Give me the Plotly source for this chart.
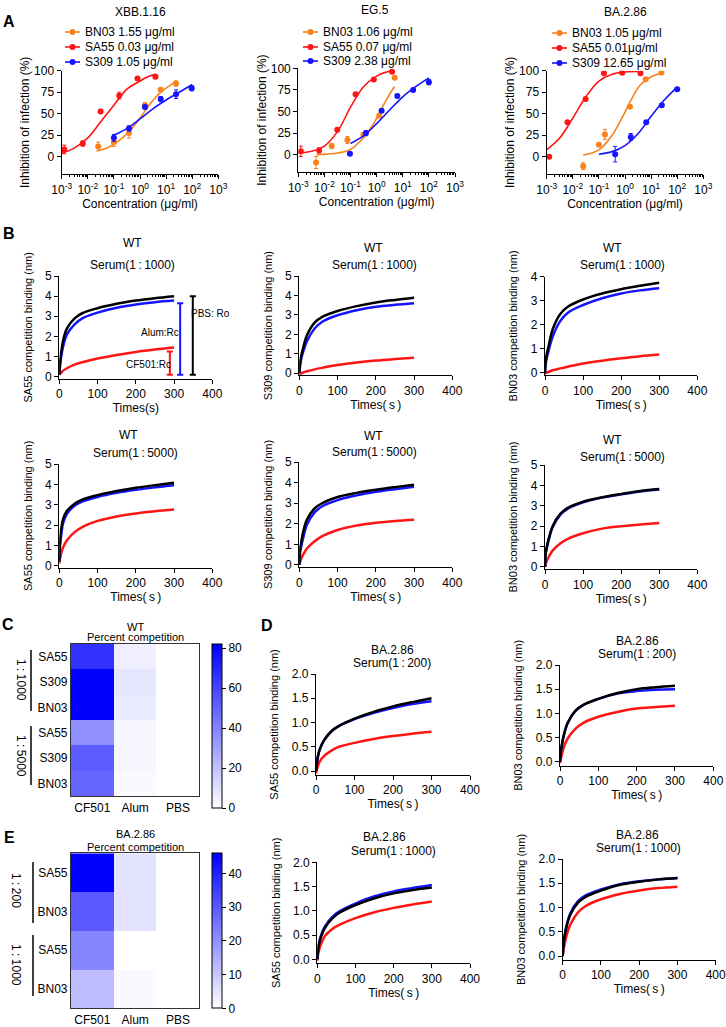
import plotly.graph_objects as go

W, H = 726, 1027
FONT = 'Arial, "Liberation Sans", "Noto Sans CJK SC", sans-serif'
RED = '#ff1414'
BLUE = '#1414ff'
ORANGE = '#f7821e'
BLACK = '#000000'

# ---------------- panel A : neutralisation (conc in ug/ml, % inhibition)
a_titles = ['XBB.1.16', 'EG.5', 'BA.2.86']
a_legend = [
    ['BN03 1.55 μg/ml', 'SA55 0.03 μg/ml', 'S309 1.05 μg/ml'],
    ['BN03 1.06 μg/ml', 'SA55 0.07 μg/ml', 'S309 2.38 μg/ml'],
    ['BN03 1.05 μg/ml', 'SA55 0.01μg/ml', 'S309 12.65 μg/ml'],
]
log_ticks = [0.001, 0.01, 0.1, 1, 10, 100, 1000]
log_text = ['10<sup>-3</sup>', '10<sup>-2</sup>', '10<sup>-1</sup>', '10<sup>0</sup>',
            '10<sup>1</sup>', '10<sup>2</sup>', '10<sup>3</sup>']

# XBB.1.16
xbb_bn03_x = [0.025, 0.1, 0.38, 1.55, 6.2, 24]
xbb_bn03_y = [12, 17, 27.7, 60, 78, 85]
xbb_bn03_e = [5, 5, 6, 3, 2, 3]
xbb_sa55_x = [0.00125, 0.0064, 0.031, 0.16, 0.8, 3.9]
xbb_sa55_y = [8.5, 15.4, 52.7, 71, 91, 93]
xbb_sa55_e = [5, 3, 2, 4, 1.5, 1.5]
xbb_s309_x = [0.1, 0.38, 1.55, 6.2, 24, 96]
xbb_s309_y = [22, 33, 57.7, 67, 72.7, 79.6]
xbb_s309_e = [4, 3, 2, 3, 5, 3]
xbb_bn03_fit_x = [0.025, 0.063, 0.16, 0.4, 1, 2.5, 6.3, 16, 25]
xbb_bn03_fit_y = [7, 11, 19, 30, 45, 62, 75, 84, 88]
xbb_sa55_fit_x = [0.001, 0.003, 0.01, 0.03, 0.1, 0.3, 1, 2, 4]
xbb_sa55_fit_y = [4, 10, 22, 40, 60, 78, 88, 93, 96]
xbb_s309_fit_x = [0.1, 0.32, 1, 3.2, 10, 32, 100]
xbb_s309_fit_y = [25, 33, 44, 56, 66, 75, 84]

# EG.5
eg5_bn03_x = [0.0048, 0.019, 0.076, 0.31, 1.25, 4.9]
eg5_bn03_y = [-9, 10, 17, 23, 45, 89]
eg5_bn03_e = [7, 3, 4, 2, 2, 1.5]
eg5_sa55_x = [0.00125, 0.00625, 0.031, 0.156, 0.78, 3.9]
eg5_sa55_y = [4, 5, 29, 70, 87, 96]
eg5_sa55_e = [6, 3, 1.5, 1.5, 2, 1.5]
eg5_s309_x = [0.095, 0.39, 1.55, 6.2, 25, 100]
eg5_s309_y = [1, 25, 51, 68, 75, 84]
eg5_s309_e = [1, 3, 2, 2, 1.5, 3]
eg5_bn03_fit_x = [0.005, 0.032, 0.1, 0.32, 0.63, 1.26, 2.5, 4.8]
eg5_bn03_fit_y = [0, 2, 6, 20, 32, 48, 65, 79]
eg5_sa55_fit_x = [0.001, 0.0032, 0.01, 0.032, 0.1, 0.32, 1, 2, 4]
eg5_sa55_fit_y = [2, 4, 10, 27, 55, 79, 91, 95, 97]
eg5_s309_fit_x = [0.1, 0.32, 1, 3.2, 10, 32, 100]
eg5_s309_fit_y = [13, 22, 36, 52, 67, 79, 89]

# BA.2.86
ba_bn03_x = [0.025, 0.1, 0.17, 1.55, 6.2, 25]
ba_bn03_y = [-11, 14, 26, 58, 90, 98]
ba_bn03_e = [4, 1, 6, 1.5, 1.5, 1]
ba_sa55_x = [0.00125, 0.00625, 0.031, 0.156, 0.78, 3.9]
ba_sa55_y = [0, 40, 67, 97, 97.7, 97]
ba_sa55_e = [1, 1, 2, 1, 1, 1]
ba_s309_x = [0.42, 1.66, 6.5, 25.7, 100]
ba_s309_y = [3, 23, 40, 60, 78.5]
ba_s309_e = [9, 4, 1.5, 1.5, 2]
ba_bn03_fit_x = [0.025, 0.1, 0.32, 1, 2, 4, 10, 25]
ba_bn03_fit_y = [2, 8, 25, 52, 70, 84, 93, 97]
ba_sa55_fit_x = [0.001, 0.0032, 0.01, 0.032, 0.1, 0.32, 1, 4]
ba_sa55_fit_y = [8, 22, 45, 70, 88, 96, 98.5, 99]
ba_s309_fit_x = [0.1, 0.32, 1, 3.2, 10, 32, 100]
ba_s309_fit_y = [3, 6, 13, 27, 47, 66, 81]

# ---------------- panels B & D : BLI competition (time s, binding nm)
times = [0, 2, 5, 10, 20, 40, 60, 100, 150, 200, 250, 300]

b_sa55_1000_pbs = [0.1, 0.7, 1.2, 1.8, 2.4, 2.9, 3.15, 3.4, 3.62, 3.78, 3.9, 4.0]
b_sa55_1000_alum = [0.1, 0.55, 1.0, 1.5, 2.1, 2.6, 2.9, 3.18, 3.42, 3.58, 3.7, 3.78]
b_sa55_1000_cf501 = [0.1, 0.14, 0.2, 0.3, 0.42, 0.6, 0.72, 0.9, 1.08, 1.23, 1.35, 1.45]

b_s309_1000_pbs = [0, 0.5, 0.9, 1.3, 1.95, 2.6, 2.9, 3.2, 3.45, 3.64, 3.77, 3.88]
b_s309_1000_alum = [0, 0.4, 0.75, 1.1, 1.65, 2.3, 2.65, 2.98, 3.24, 3.42, 3.52, 3.6]
b_s309_1000_cf501 = [-0.05, -0.03, 0.0, 0.04, 0.1, 0.2, 0.28, 0.42, 0.55, 0.65, 0.73, 0.8]

b_bn03_1000_pbs = [0, 0.5, 0.8, 1.15, 1.8, 2.45, 2.75, 3.05, 3.3, 3.48, 3.62, 3.75]
b_bn03_1000_alum = [0, 0.4, 0.65, 0.95, 1.5, 2.15, 2.5, 2.82, 3.1, 3.3, 3.43, 3.52]
b_bn03_1000_cf501 = [-0.03, -0.02, 0.0, 0.04, 0.1, 0.18, 0.25, 0.38, 0.5, 0.6, 0.69, 0.76]

b_sa55_5000_pbs = [0.2, 1.2, 1.8, 2.3, 2.7, 3.05, 3.25, 3.47, 3.67, 3.83, 3.96, 4.08]
b_sa55_5000_alum = [0.2, 1.0, 1.5, 2.1, 2.55, 2.95, 3.15, 3.38, 3.58, 3.73, 3.85, 3.95]
b_sa55_5000_cf501 = [0.1, 0.35, 0.6, 0.9, 1.25, 1.65, 1.9, 2.2, 2.42, 2.57, 2.68, 2.76]

b_s309_5000_pbs = [0, 0.8, 1.1, 1.6, 2.2, 2.75, 3.0, 3.3, 3.5, 3.65, 3.78, 3.9]
b_s309_5000_alum = [0, 0.6, 0.9, 1.3, 1.95, 2.55, 2.85, 3.15, 3.38, 3.55, 3.68, 3.8]
b_s309_5000_cf501 = [0, 0.15, 0.3, 0.5, 0.8, 1.15, 1.4, 1.7, 1.92, 2.05, 2.14, 2.2]

b_bn03_5000_pbs = [0, 0.7, 1.0, 1.4, 2.0, 2.6, 2.9, 3.2, 3.42, 3.58, 3.72, 3.82]
b_bn03_5000_alum = [0, 0.65, 0.95, 1.35, 1.95, 2.55, 2.86, 3.17, 3.4, 3.56, 3.7, 3.8]
b_bn03_5000_cf501 = [0, 0.15, 0.3, 0.5, 0.8, 1.15, 1.38, 1.65, 1.88, 2.0, 2.08, 2.15]

d_sa55_200_pbs = [0, 0.15, 0.3, 0.45, 0.62, 0.82, 0.93, 1.08, 1.22, 1.33, 1.42, 1.5]
d_sa55_200_alum = [0, 0.15, 0.3, 0.45, 0.62, 0.82, 0.93, 1.07, 1.2, 1.3, 1.38, 1.44]
d_sa55_200_cf501 = [-0.05, 0.02, 0.1, 0.2, 0.3, 0.42, 0.5, 0.58, 0.66, 0.72, 0.77, 0.81]

d_bn03_200_pbs = [0, 0.2, 0.35, 0.55, 0.8, 1.05, 1.17, 1.3, 1.42, 1.5, 1.54, 1.57]
d_bn03_200_alum = [0, 0.2, 0.35, 0.55, 0.8, 1.05, 1.17, 1.3, 1.41, 1.46, 1.49, 1.5]
d_bn03_200_cf501 = [-0.03, 0.06, 0.15, 0.3, 0.48, 0.68, 0.8, 0.93, 1.03, 1.1, 1.13, 1.16]

d_sa55_1000_pbs = [0, 0.18, 0.33, 0.47, 0.65, 0.85, 0.97, 1.12, 1.26, 1.36, 1.43, 1.48]
d_sa55_1000_alum = [0, 0.2, 0.35, 0.5, 0.68, 0.88, 1.0, 1.15, 1.3, 1.4, 1.47, 1.53]
d_sa55_1000_cf501 = [-0.03, 0.1, 0.2, 0.32, 0.48, 0.63, 0.72, 0.85, 0.97, 1.06, 1.13, 1.19]

d_bn03_1000_pbs = [0, 0.22, 0.4, 0.6, 0.85, 1.1, 1.22, 1.35, 1.47, 1.53, 1.58, 1.61]
d_bn03_1000_alum = [0, 0.25, 0.43, 0.63, 0.88, 1.13, 1.25, 1.37, 1.48, 1.54, 1.58, 1.61]
d_bn03_1000_cf501 = [0, 0.12, 0.25, 0.42, 0.65, 0.9, 1.03, 1.17, 1.28, 1.35, 1.4, 1.43]

# Rc / Ro brackets drawn on the first B panel (time position, top value)
bracket_x = [289, 316, 349]
bracket_top = [1.25, 3.65, 4.0]
bracket_bottom = 0.1
bracket_labels = ['CF501:Rc', 'Alum:Rc', 'PBS: Ro']

# ---------------- panels C & E : percent competition heatmaps
hm_cols = ['CF501', 'Alum', 'PBS']
wt_rows = ['SA55', 'S309', 'BN03', 'SA55', 'S309', 'BN03']
wt_cf501 = [66, 82, 82, 36, 52, 50]
wt_alum = [5, 8, 7, 3, 3, 2]
wt_pbs = [0, 0, 0, 0, 0, 0]
ba_rows = ['SA55', 'BN03', 'SA55', 'BN03']
ba_cf501 = [46, 30, 22, 12]
ba_alum = [5, 5, 0, 1]
ba_pbs = [0, 0, 0, 0]


def xd(a, b):
    return [a / W, b / W]


def yd(top, bottom):
    return [1 - bottom / H, 1 - top / H]


def px(x):
    return x / W


def py(y):
    return 1 - y / H


AX = dict(showline=True, linecolor='black', linewidth=1.3, ticks='outside', ticklen=4,
          tickwidth=1.3, tickcolor='black', showgrid=False, zeroline=False, automargin=False,
          ticklabeloverflow='allow',
          tickfont=dict(size=12, color='black'), title_font=dict(size=12, color='black'))

fig = go.Figure()
layout = {}
annots = []
shapes = []


def add_axes(n, xdom, ydom, xextra, yextra):
    xa = dict(AX, domain=xdom, anchor='y%d' % n)
    xa.update(xextra)
    ya = dict(AX, domain=ydom, anchor='x%d' % n)
    ya.update(yextra)
    layout['xaxis%d' % n] = xa
    layout['yaxis%d' % n] = ya


def text(x, y, s, size=12, xanchor='center', **kw):
    annots.append(dict(x=px(x), y=py(y), xref='paper', yref='paper', text=s, showarrow=False,
                       xanchor=xanchor, yanchor='middle', font=dict(size=size, color='black'), **kw))


# ---- panel A
a_sets = [
    [(xbb_bn03_x, xbb_bn03_y, xbb_bn03_e, xbb_bn03_fit_x, xbb_bn03_fit_y, ORANGE),
     (xbb_sa55_x, xbb_sa55_y, xbb_sa55_e, xbb_sa55_fit_x, xbb_sa55_fit_y, RED),
     (xbb_s309_x, xbb_s309_y, xbb_s309_e, xbb_s309_fit_x, xbb_s309_fit_y, BLUE)],
    [(eg5_bn03_x, eg5_bn03_y, eg5_bn03_e, eg5_bn03_fit_x, eg5_bn03_fit_y, ORANGE),
     (eg5_sa55_x, eg5_sa55_y, eg5_sa55_e, eg5_sa55_fit_x, eg5_sa55_fit_y, RED),
     (eg5_s309_x, eg5_s309_y, eg5_s309_e, eg5_s309_fit_x, eg5_s309_fit_y, BLUE)],
    [(ba_bn03_x, ba_bn03_y, ba_bn03_e, ba_bn03_fit_x, ba_bn03_fit_y, ORANGE),
     (ba_sa55_x, ba_sa55_y, ba_sa55_e, ba_sa55_fit_x, ba_sa55_fit_y, RED),
     (ba_s309_x, ba_s309_y, ba_s309_e, ba_s309_fit_x, ba_s309_fit_y, BLUE)],
]
a_geom = [  # x left, x right, y top(100), y bottom(axis)
    (61.7, 218.3, 70.7, 174.0),
    (298.3, 455.0, 68.3, 172.0),
    (546.7, 703.3, 70.7, 174.0),
]
a_title_pos = [(140, 12), (375, 10), (625, 12)]
a_legend_x = [65, 303, 552]          # left end of the legend key
a_legend_y = [[32, 47, 62], [32, 47, 61], [33, 48, 63]]

for i in range(3):
    n = i + 1
    x0, x1, yt, yb = a_geom[i]
    add_axes(n, xd(x0, x1), yd(yt, yb),
             dict(type='log', range=[-3, 3], tickvals=log_ticks, ticktext=log_text,
                  minor=dict(ticks='outside', ticklen=2, tickwidth=1, tickcolor='black', dtick='D1'),
                  title=dict(text='Concentration (μg/ml)', standoff=4)),
             dict(range=[-20, 100], tickvals=[0, 25, 50, 75, 100],
                  title=dict(text='Inhibition of infection (%)', standoff=1)))
    for k, (x, y, e, fx, fy, c) in enumerate(a_sets[i]):
        fig.add_trace(go.Scatter(x=fx, y=fy, mode='lines', line=dict(color=c, width=1.6, shape='spline'),
                                 xaxis='x%d' % n, yaxis='y%d' % n, showlegend=False))
        fig.add_trace(go.Scatter(x=x, y=y, mode='markers', marker=dict(color=c, size=6),
                                 error_y=dict(type='data', array=e, color=c, thickness=1, width=2),
                                 xaxis='x%d' % n, yaxis='y%d' % n, showlegend=False))
        # legend key: short line with a dot, then the label
        lx = a_legend_x[i]
        ly = a_legend_y[i][k]
        shapes.append(dict(type='line', xref='paper', yref='paper', x0=px(lx), x1=px(lx + 15),
                           y0=py(ly), y1=py(ly), line=dict(color=c, width=1.6)))
        shapes.append(dict(type='circle', xref='paper', yref='paper', x0=px(lx + 4.5), x1=px(lx + 10.5),
                           y0=py(ly + 3), y1=py(ly - 3), fillcolor=c, line=dict(width=0)))
        text(lx + 18, ly, a_legend[i][k], size=12, xanchor='left')
    tx, ty = a_title_pos[i]
    text(tx, ty, a_titles[i], size=12)

# ---- panel B
b_series = [
    (b_sa55_1000_cf501, b_sa55_1000_alum, b_sa55_1000_pbs),
    (b_s309_1000_cf501, b_s309_1000_alum, b_s309_1000_pbs),
    (b_bn03_1000_cf501, b_bn03_1000_alum, b_bn03_1000_pbs),
    (b_sa55_5000_cf501, b_sa55_5000_alum, b_sa55_5000_pbs),
    (b_s309_5000_cf501, b_s309_5000_alum, b_s309_5000_pbs),
    (b_bn03_5000_cf501, b_bn03_5000_alum, b_bn03_5000_pbs),
]
b_geom = [  # x left, x right (t=400), y top, y bottom, ymax
    (59.3, 212.3, 276.0, 378.7, 5),
    (299.3, 452.3, 276.0, 375.2, 5),
    (545.0, 697.3, 276.7, 375.1, 4),
    (59.3, 212.3, 464.0, 567.7, 5),
    (299.3, 452.3, 462.0, 567.0, 5),
    (545.0, 697.3, 465.0, 569.0, 5),
]
b_ytitles = ['SA55 competition binding (nm)', 'S309 competition binding (nm)',
             'BN03 competition binding (nm)'] * 2
b_serum = ['Serum(1\u2009:\u20091000)'] * 3 + ['Serum(1\u2009:\u20095000)'] * 3
b_xtitles = ['Times(s)'] + ['Times(\u2009s\u2009)'] * 5
b_wt_pos = [(132, 243), (373, 248), (612, 248), (128, 435), (373, 436), (612, 440)]
b_serum_pos = [(132, 265), (375, 265), (622, 265), (135, 453), (375, 452), (622, 457)]

for i in range(6):
    n = 4 + i
    x0, x1, yt, yb, ymax = b_geom[i]
    add_axes(n, xd(x0, x1), yd(yt, yb),
             dict(range=[0, 400], tickvals=[0, 100, 200, 300, 400],
                  title=dict(text=b_xtitles[i], standoff=2)),
             dict(range=[-0.1, ymax], tickvals=list(range(0, ymax + 1)),
                  title=dict(text=b_ytitles[i], standoff=10, font=dict(size=11))))
    for ys, c in zip(b_series[i], [RED, BLUE, BLACK]):
        fig.add_trace(go.Scatter(x=times, y=ys, mode='lines', line=dict(color=c, width=2.5, shape='spline'),
                                 xaxis='x%d' % n, yaxis='y%d' % n, showlegend=False))
    text(*b_wt_pos[i], 'WT', size=12)
    text(*b_serum_pos[i], b_serum[i], size=12)

# Rc/Ro brackets on first B panel
for bx, top, c, lab, lx, ly in zip(bracket_x, bracket_top, [RED, BLUE, BLACK], bracket_labels,
                                   [232, 263, 394], [0.63, 2.18, 3.15]):
    shapes.append(dict(type='line', xref='x4', yref='y4', x0=bx, x1=bx, y0=bracket_bottom, y1=top,
                       line=dict(color=c, width=2)))
    for yy in (bracket_bottom, top):
        shapes.append(dict(type='line', xref='x4', yref='y4', x0=bx - 8, x1=bx + 8, y0=yy, y1=yy,
                           line=dict(color=c, width=2)))
    annots.append(dict(x=lx, y=ly, xref='x4', yref='y4', text=lab, showarrow=False,
                       xanchor='center', yanchor='middle', font=dict(size=10, color='black')))

# ---- panel D
d_series = [
    (d_sa55_200_cf501, d_sa55_200_alum, d_sa55_200_pbs),
    (d_bn03_200_cf501, d_bn03_200_alum, d_bn03_200_pbs),
    (d_sa55_1000_cf501, d_sa55_1000_alum, d_sa55_1000_pbs),
    (d_bn03_1000_cf501, d_bn03_1000_alum, d_bn03_1000_pbs),
]
d_geom = [
    (316.0, 470.0, 674.0, 774.9),
    (560.0, 713.3, 665.0, 765.6),
    (317.3, 470.0, 862.3, 963.2),
    (562.7, 715.7, 859.0, 959.9),
]
d_ytitles = ['SA55 competition binding (nm)', 'BN03 competition binding (nm)'] * 2
d_serum = ['Serum(1\u2009:\u2009200)'] * 2 + ['Serum(1\u2009:\u20091000)'] * 2
d_ba_pos = [(392, 650), (637, 641), (384, 837), (637, 835)]
d_serum_pos = [(392, 663), (637, 654), (393, 851), (638, 848)]

for i in range(4):
    n = 11 + i
    x0, x1, yt, yb = d_geom[i]
    add_axes(n, xd(x0, x1), yd(yt, yb),
             dict(range=[0, 400], tickvals=[0, 100, 200, 300, 400],
                  title=dict(text='Times(\u2009s\u2009)', standoff=2)),
             dict(range=[-0.08, 2], tickvals=[0, 0.5, 1, 1.5, 2], tickformat='.1f',
                  title=dict(text=d_ytitles[i], standoff=10, font=dict(size=11))))
    for ys, c in zip(d_series[i], [RED, BLUE, BLACK]):
        fig.add_trace(go.Scatter(x=times, y=ys, mode='lines', line=dict(color=c, width=2.5, shape='spline'),
                                 xaxis='x%d' % n, yaxis='y%d' % n, showlegend=False))
    text(*d_ba_pos[i], 'BA.2.86', size=12)
    text(*d_serum_pos[i], d_serum[i], size=12)

# ---- panels C & E heatmaps
SCALE = [[0, '#ffffff'], [1, '#0000ff']]


def heatmap(n, rows, cols_vals, zmax, ticks, geom, cb_geom):
    x0, x1, yt, yb = geom
    z = [list(r) for r in zip(*cols_vals)]
    cbx, cbt, cbb = cb_geom
    fig.add_trace(go.Heatmap(
        z=z, x=[0, 1, 2], y=list(range(len(rows))), zmin=0, zmax=zmax, colorscale=SCALE,
        xaxis='x%d' % n, yaxis='y%d' % n,
        colorbar=dict(x=px(cbx), xanchor='left', y=py(cbt), yanchor='top', len=cbb - cbt, lenmode='pixels',
                      thickness=10, thicknessmode='pixels', outlinewidth=1, outlinecolor='black',
                      ticks='outside', ticklen=4, tickcolor='black', tickvals=ticks, xpad=0, ypad=0,
                      tickfont=dict(size=12, color='black'))))
    layout['xaxis%d' % n] = dict(domain=xd(x0, x1), anchor='y%d' % n, showline=True, mirror=True,
                                 linecolor='#333333', linewidth=1.2, ticks='', tickvals=[0, 1, 2],
                                 ticktext=hm_cols, range=[-0.5, 2.5], showgrid=False, zeroline=False,
                                 automargin=False, tickfont=dict(size=12, color='black'))
    layout['yaxis%d' % n] = dict(domain=yd(yt, yb), anchor='x%d' % n, showline=True, mirror=True,
                                 linecolor='#333333', linewidth=1.2, ticks='', tickvals=list(range(len(rows))),
                                 ticktext=rows, range=[len(rows) - 0.5, -0.5], showgrid=False,
                                 zeroline=False, automargin=False, tickfont=dict(size=12, color='black'))


heatmap(10, wt_rows, [wt_cf501, wt_alum, wt_pbs], 82, [0, 20, 40, 60, 80],
        (71, 199.3, 644, 796), (211.7, 644, 808))
heatmap(15, ba_rows, [ba_cf501, ba_alum, ba_pbs], 46, [0, 10, 20, 30, 40],
        (71, 199.3, 853.3, 1008.3), (211.7, 853.3, 1008.3))

text(135, 627, 'WT', size=11)
text(135, 637, 'Percent competition', size=11)
text(135, 834, 'BA.2.86', size=11)
text(135, 847, 'Percent competition', size=11)

# group brackets for the dilutions
for (gx, y0, y1, lx, ly, lab) in [(31, 650, 711, 21, 680, '1\u2009:\u20091000'),
                                  (31, 726, 785, 21, 756, '1\u2009:\u20095000'),
                                  (33, 862, 923, 16, 890, '1\u2009:\u2009200'),
                                  (33, 935, 996, 16, 965, '1\u2009:\u20091000')]:
    shapes.append(dict(type='line', xref='paper', yref='paper', x0=px(gx), x1=px(gx), y0=py(y0), y1=py(y1),
                       line=dict(color='black', width=1.5)))
    text(lx, ly, lab, size=12, textangle=90)

# panel letters
for lab, x, y in [('A', 9, 22), ('B', 9, 233), ('C', 8, 624), ('D', 267, 625), ('E', 9, 837)]:
    text(x, y, '<b>%s</b>' % lab, size=16)

layout.update(dict(width=W, height=H, margin=dict(l=0, r=0, t=0, b=0, autoexpand=False),
                   paper_bgcolor='white', plot_bgcolor='white', font=dict(family=FONT, color='black'),
                   showlegend=False, annotations=annots, shapes=shapes))
fig.update_layout(**layout)
fig.write_html('out.html', config={'displayModeBar': False},
               post_script="document.body.style.margin='0px';")
